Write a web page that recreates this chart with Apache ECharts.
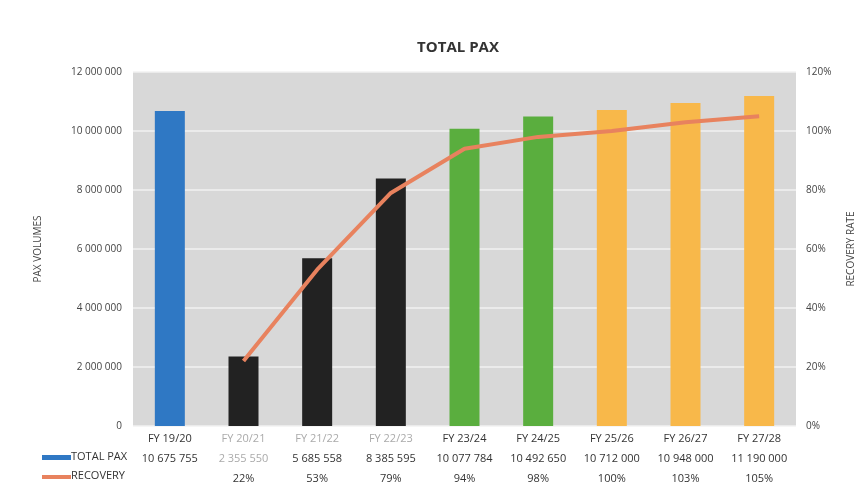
<!DOCTYPE html>
<html><head><meta charset="utf-8">
<script src="https://cdn.jsdelivr.net/npm/echarts@6/dist/echarts.min.js"></script>
<style>html,body{margin:0;padding:0;background:#fff}#c{width:864px;height:495px}</style>
</head><body><div id="c"></div>
<script>
var categories = ['FY 19/20','FY 20/21','FY 21/22','FY 22/23','FY 23/24','FY 24/25','FY 25/26','FY 26/27','FY 27/28'];
var totalPax = [10675755, 2355550, 5685558, 8385595, 10077784, 10492650, 10712000, 10948000, 11190000];
var recovery = [null, 22, 53, 79, 94, 98, 100, 103, 105];
var barColors = ['#2f78c4','#222222','#222222','#222222','#5aae3e','#5aae3e','#f8b84a','#f8b84a','#f8b84a'];
var leftTicks = [0, 2000000, 4000000, 6000000, 8000000, 10000000, 12000000];
var rightTicks = [0, 20, 40, 60, 80, 100, 120];
var fadedLabel = [false, true, true, true, false, false, false, false, false];
var fadedPax = [false, true, false, false, false, false, false, false, false];

function fmt(n){ return String(n).replace(/\B(?=(\d{3})+(?!\d))/g, ' '); }
var FONT = '"Liberation Sans Narrow","Open Sans",sans-serif';

var chart = echarts.init(document.getElementById('c'));
chart.setOption({
  animation: false,
  backgroundColor: '#fff',
  title: { text: 'TOTAL PAX', left: 453, top: 35, textAlign: 'center',
    textStyle: { fontFamily: FONT, fontSize: 15, fontWeight: 'bold', color: '#333' } },
  grid: { left: 133, right: 56, top: 72, bottom: 69, show: true, backgroundColor: '#d8d8d8', borderWidth: 0 },
  xAxis: {
    type: 'category', data: categories,
    axisLine: { show: false }, axisTick: { show: false },
    axisLabel: {
      interval: 0, margin: 3, lineHeight: 20,
      formatter: function(v, i){
        var a = fadedLabel[i] ? 'f' : 'n';
        var b = fadedPax[i] ? 'f' : 'n';
        var r = recovery[i] == null ? ' ' : recovery[i] + '%';
        return '{' + a + '|' + v + '}\n{' + b + '|' + fmt(totalPax[i]) + '}\n{n|' + r + '}';
      },
      rich: {
        n: { fontFamily: FONT, fontSize: 11, color: '#333', lineHeight: 20 },
        f: { fontFamily: FONT, fontSize: 11, color: '#aaa', lineHeight: 20 }
      }
    }
  },
  yAxis: [{
    type: 'value', min: leftTicks[0], max: leftTicks[leftTicks.length-1], interval: leftTicks[1]-leftTicks[0],
    name: 'PAX VOLUMES', nameLocation: 'middle', nameGap: 90, nameRotate: 90,
    nameTextStyle: { fontFamily: FONT, fontSize: 10, color: '#444' },
    axisLine: { show: false }, axisTick: { show: false },
    splitLine: { lineStyle: { color: '#f2f2f2', width: 1.5 } },
    axisLabel: { fontFamily: FONT, fontSize: 10, color: '#444', margin: 11, formatter: function(v){ return fmt(v); } }
  }, {
    type: 'value', min: rightTicks[0], max: rightTicks[rightTicks.length-1], interval: rightTicks[1]-rightTicks[0],
    name: 'RECOVERY RATE', nameLocation: 'middle', nameGap: 50, nameRotate: 90,
    nameTextStyle: { fontFamily: FONT, fontSize: 10, color: '#444' },
    axisLine: { show: false }, axisTick: { show: false }, splitLine: { show: false },
    axisLabel: { fontFamily: FONT, fontSize: 10, color: '#444', margin: 10, formatter: '{value}%' }
  }],
  series: [{
    name: 'TOTAL PAX', type: 'bar', data: totalPax.map(function(v, i){ return { value: v, itemStyle: { color: barColors[i] } }; }),
    barWidth: 30
  }, {
    name: 'RECOVERY', type: 'line', yAxisIndex: 1, data: recovery, symbol: 'none',
    lineStyle: { color: '#e8825e', width: 4 }, connectNulls: false
  }],
  graphic: [
    { type: 'rect', shape: { x: 42, y: 455, width: 29, height: 5 }, style: { fill: '#2f78c4' } },
    { type: 'text', left: 71, top: 451, style: { text: 'TOTAL PAX', fontFamily: FONT, fontSize: 11, fill: '#333' } },
    { type: 'rect', shape: { x: 42, y: 475, width: 29, height: 4 }, style: { fill: '#e8825e' } },
    { type: 'text', left: 71, top: 470, style: { text: 'RECOVERY', fontFamily: FONT, fontSize: 11, fill: '#333' } }
  ]
});
</script></body></html>
